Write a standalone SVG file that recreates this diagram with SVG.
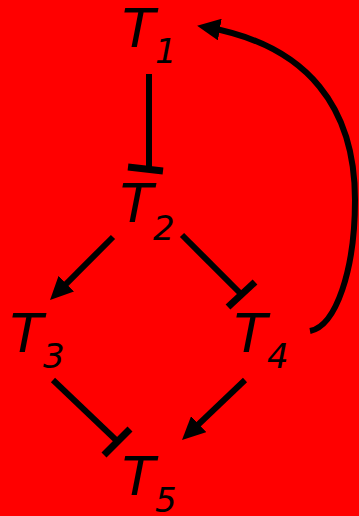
<svg xmlns="http://www.w3.org/2000/svg" width="359" height="516" viewBox="0 0 359 516">
<style>
.lbl{font-family:"DejaVu Sans",sans-serif;font-style:italic;font-size:54px;fill:#000}
.sub{font-size:34px}
.e{fill:none;stroke:#000;stroke-width:6}
.bar{stroke:#000;stroke-width:7}
</style>
<defs>
<marker id="arr" markerUnits="userSpaceOnUse" markerWidth="24" markerHeight="22" viewBox="0 0 24 22" refX="15" refY="11" orient="auto">
<path d="M0,0 L23,11 L0,22 Z" fill="#000"/>
</marker>
</defs>
<rect width="359" height="516" fill="#ff0000"/>
<g id="connectors">
<line class="e" x1="149" y1="74" x2="149" y2="169"/>
<line class="bar" x1="128" y1="167" x2="163" y2="171"/>
<line class="e" x1="113" y1="237" x2="55.7" y2="294.3" marker-end="url(#arr)"/>
<line class="e" x1="182" y1="235" x2="241" y2="294"/>
<line class="bar" x1="228" y1="307" x2="255" y2="282"/>
<line class="e" x1="53" y1="380" x2="117" y2="441"/>
<line class="bar" x1="104" y1="455" x2="130" y2="429"/>
<line class="e" x1="245" y1="380" x2="187.8" y2="434.5" marker-end="url(#arr)"/>
<path class="e" d="M310,331 C336,326 355,270 355,200 C355,110 310,45 205,27" marker-end="url(#arr)"/>
</g>
<g id="T1"><text class="lbl" x="122" y="47">T<tspan class="sub" dy="16">1</tspan></text></g>
<g id="T2"><text class="lbl" x="120" y="222">T<tspan class="sub" dy="18">2</tspan></text></g>
<g id="T3"><text class="lbl" x="10" y="352">T<tspan class="sub" dy="16">3</tspan></text></g>
<g id="T4"><text class="lbl" x="234" y="352">T<tspan class="sub" dy="16">4</tspan></text></g>
<g id="T5"><text class="lbl" x="122" y="495">T<tspan class="sub" dy="17">5</tspan></text></g>
</svg>
